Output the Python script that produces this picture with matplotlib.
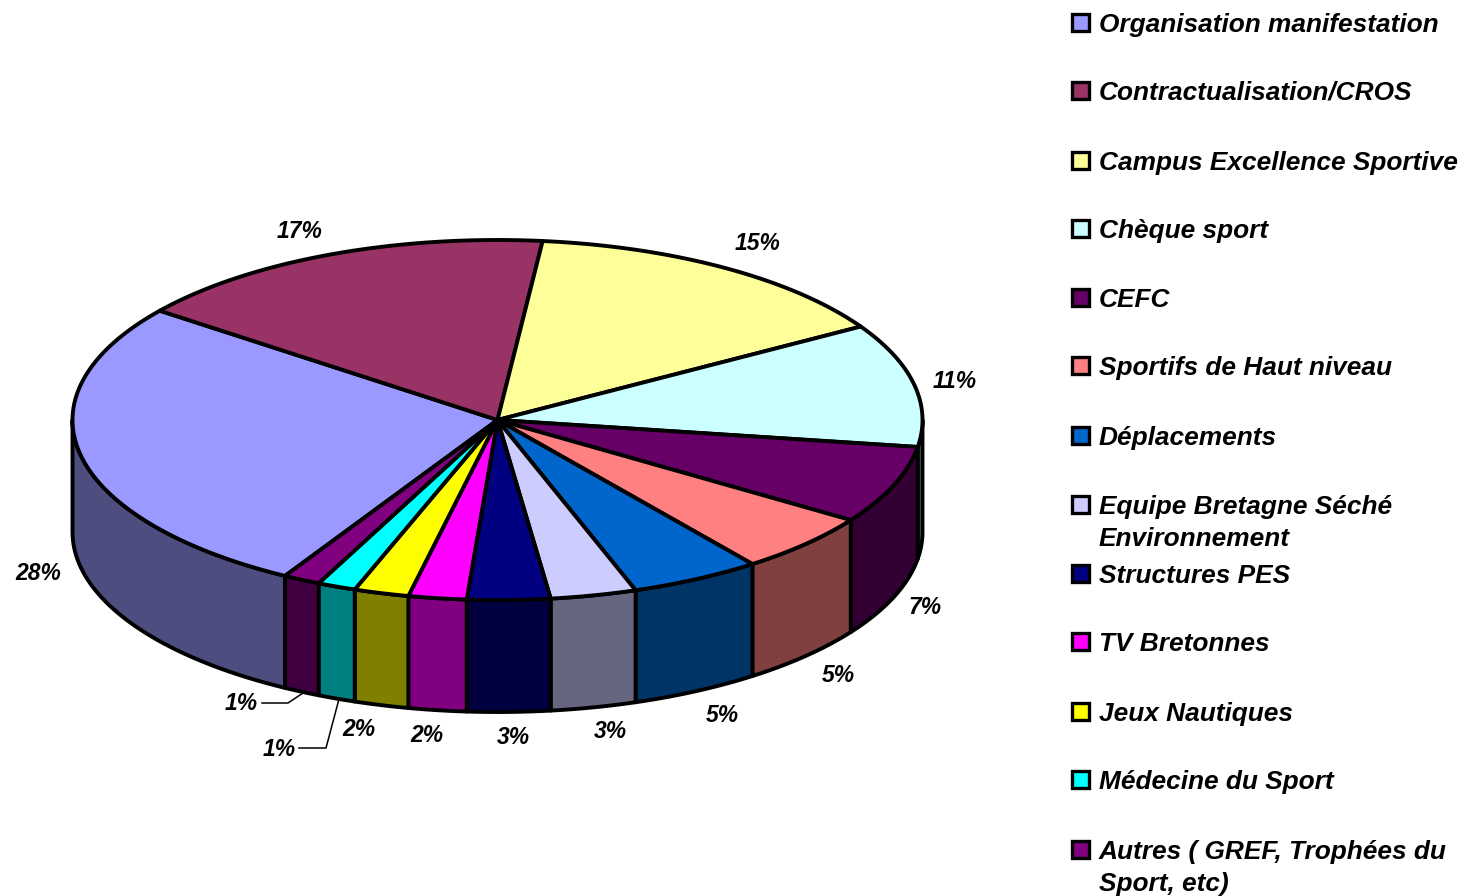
import numpy as np
import matplotlib
matplotlib.use("Agg")
import matplotlib.pyplot as plt
from matplotlib.colors import to_rgb
from matplotlib.patches import Polygon, Rectangle

# --- data ---
categories = ["Organisation manifestation", "Contractualisation/CROS", "Campus Excellence Sportive",
              "Chèque sport", "CEFC", "Sportifs de Haut niveau", "Déplacements",
              "Equipe Bretagne Séché\nEnvironnement", "Structures PES", "TV Bretonnes",
              "Jeux Nautiques", "Médecine du Sport", "Autres ( GREF, Trophées du\nSport, etc)"]
values = [27.05, 16.31, 14.62, 11.08, 6.99, 5.38, 4.97, 3.27, 3.15, 2.21, 2.09, 1.46, 1.42]
pct_labels = ["28%", "17%", "15%", "11%", "7%", "5%", "5%", "3%", "3%", "2%", "2%", "1%", "1%"]
colors = ["#9999FF", "#993366", "#FFFF99", "#CCFFFF", "#660066", "#FF8080", "#0066CC",
          "#CCCCFF", "#000080", "#FF00FF", "#FFFF00", "#00FFFF", "#800080"]

# --- layout (pixels) ---
W, H = 1460, 896
CX, CY, RX, RY, DEPTH = 497.5, 420, 425, 180, 112
START = 240.0
label_pos = [(38, 573), (300, 232), (758, 244), (955, 382), (925, 608), (838, 676), (722, 715),
             (610, 732), (513, 737), (427, 735), (359, 730), (279, 749), (241, 704)]
legend_y = [23, 91, 161, 229, 298, 366, 436, 505, 574, 642, 712, 780, 850]
leaders = [([262, 288, 303], [703, 703, 693]), ([299, 326, 339], [748, 748, 699])]

FONT = "Liberation Sans"
LW = 2.8

fig = plt.figure(figsize=(W / 100, H / 100), dpi=100)
ax = fig.add_axes([0, 0, 1, 1])
ax.set_xlim(0, W)
ax.set_ylim(H, 0)
ax.axis("off")


def ell(a, dy=0.0):
    r = np.radians(a)
    return np.column_stack([CX + RX * np.cos(r), CY - RY * np.sin(r) + dy])


fractions = np.cumsum([0] + values) / sum(values)
edges = START - 360 * fractions

# side walls (only the part of the rim on the front half)
for i, col in enumerate(colors):
    hi, lo = edges[i], edges[i + 1]
    for shift in (0, 360):
        a0 = max(lo + shift, 180)
        a1 = min(hi + shift, 360)
        if a1 > a0:
            t = np.linspace(a0, a1, 60)
            pts = np.vstack([ell(t), ell(t[::-1], DEPTH)])
            dark = tuple(c * 0.5 for c in to_rgb(col))
            ax.add_patch(Polygon(pts, closed=True, fc=dark, ec="black", lw=LW, joinstyle="round", zorder=2))

# top faces
for i, col in enumerate(colors):
    t = np.linspace(edges[i], edges[i + 1], 120)
    pts = np.vstack([[CX, CY], ell(t)])
    ax.add_patch(Polygon(pts, closed=True, fc=col, ec="black", lw=LW, joinstyle="round", zorder=3))

# percentage labels
for (x, y), s in zip(label_pos, pct_labels):
    ax.text(x, y, s, ha="center", va="center", family=FONT, weight="bold", style="italic",
            fontsize=16.5, color="black", zorder=5)

for xs, ys in leaders:
    ax.plot(xs, ys, color="black", lw=1.1, zorder=4)

# legend
for name, col, y in zip(categories, colors, legend_y):
    ax.add_patch(Rectangle((1072, y - 8.5), 17, 16.5, fc=col, ec="black", lw=2.4, zorder=4))
    ax.text(1099, y - 10, name, ha="left", va="top", family=FONT, weight="bold", style="italic",
            fontsize=18.9, color="black", linespacing=1.42, zorder=5)

fig.savefig("out.png", dpi=100, facecolor="white")
